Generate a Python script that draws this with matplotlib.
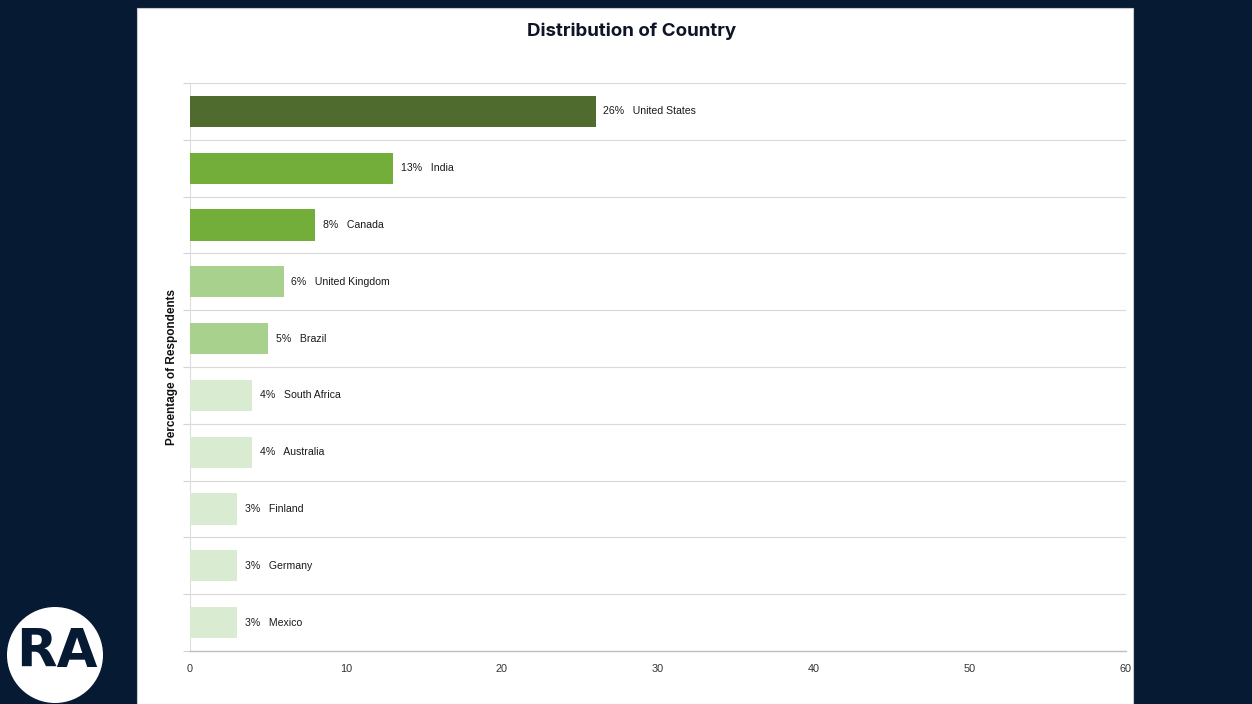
import matplotlib.pyplot as plt
from matplotlib.patches import Rectangle, Circle
import numpy as np

# survey share by country (percent of respondents)
countries = ["United States", "India", "Canada", "United Kingdom", "Brazil",
             "South Africa", "Australia", "Finland", "Germany", "Mexico"]
shares = [26, 13, 8, 6, 5, 4, 4, 3, 3, 3]
bar_colors = ["#4f6b2e", "#74ae3a", "#74ae3a", "#a9d18e", "#a9d18e",
              "#d9ecd1", "#d9ecd1", "#d9ecd1", "#d9ecd1", "#d9ecd1"]
x_ticks = [0, 10, 20, 30, 40, 50, 60]

W, H = 1252, 704
fig = plt.figure(figsize=(W / 100, H / 100), dpi=100)
fig.patch.set_facecolor("#061a33")

# white card behind the chart
fig.patches.append(Rectangle((137 / W, 0), (1133 - 137) / W, (704 - 8) / H,
                             transform=fig.transFigure, facecolor="white",
                             edgecolor="#c8ccd2", linewidth=0.8, zorder=-1))

ax = fig.add_axes([190 / W, 1 - 651 / H, (1126 - 190) / W, (651 - 83) / H])
ax.set_facecolor("white")

y = np.arange(len(countries))
ax.barh(y, shares, height=0.55, color=bar_colors, zorder=3)

for yi, v, name in zip(y, shares, countries):
    ax.text(v + 0.5, yi, f"{v}%   {name}", va="center", ha="left",
            fontsize=7.6, color="#1a1a1a", family="Liberation Sans")

ax.set_xlim(0, 60)
ax.set_ylim(len(countries) - 0.5, -0.5)
ax.set_xticks(x_ticks)
ax.set_xticklabels([str(t) for t in x_ticks], fontsize=7.8, color="#333333",
                   family="Liberation Sans")
ax.tick_params(axis="x", length=0, pad=9)

# separators between categories
ax.set_yticks([])
ax.set_yticks(np.arange(-0.5, len(countries), 1.0), minor=True)
ax.tick_params(axis="y", which="minor", length=5, color="#d4d4d4", width=0.8)
ax.grid(axis="y", which="minor", color="#d9d9d9", linewidth=0.8, zorder=1)

for s in ["top", "right"]:
    ax.spines[s].set_visible(False)
ax.spines["left"].set_color("#dddddd")
ax.spines["bottom"].set_color("#bfbfbf")
ax.spines["bottom"].set_linewidth(1.0)

ax.set_ylabel("Percentage of Respondents", fontsize=8.5, fontweight="bold",
              color="#111111", family="Liberation Sans", labelpad=0)
ax.yaxis.set_label_coords(-12 / (1126 - 190), 0.5)

fig.text(632 / W, 1 - 31 / H, "Distribution of Country", ha="center",
         va="center", fontsize=13.5, fontweight="bold", color="#0f1526",
         family="Inter")

# RA badge
badge = Circle((0.55, (H - 655) / 100), 0.48, transform=fig.dpi_scale_trans,
               facecolor="white", edgecolor="none", zorder=2)
fig.patches.append(badge)
fig.text(57 / W, 1 - 652 / H, "RA", ha="center", va="center", fontsize=38,
         fontweight="bold", color="#061a33", family="Liberation Sans Narrow",
         zorder=3)

fig.savefig("out.png", dpi=100, facecolor=fig.get_facecolor())
